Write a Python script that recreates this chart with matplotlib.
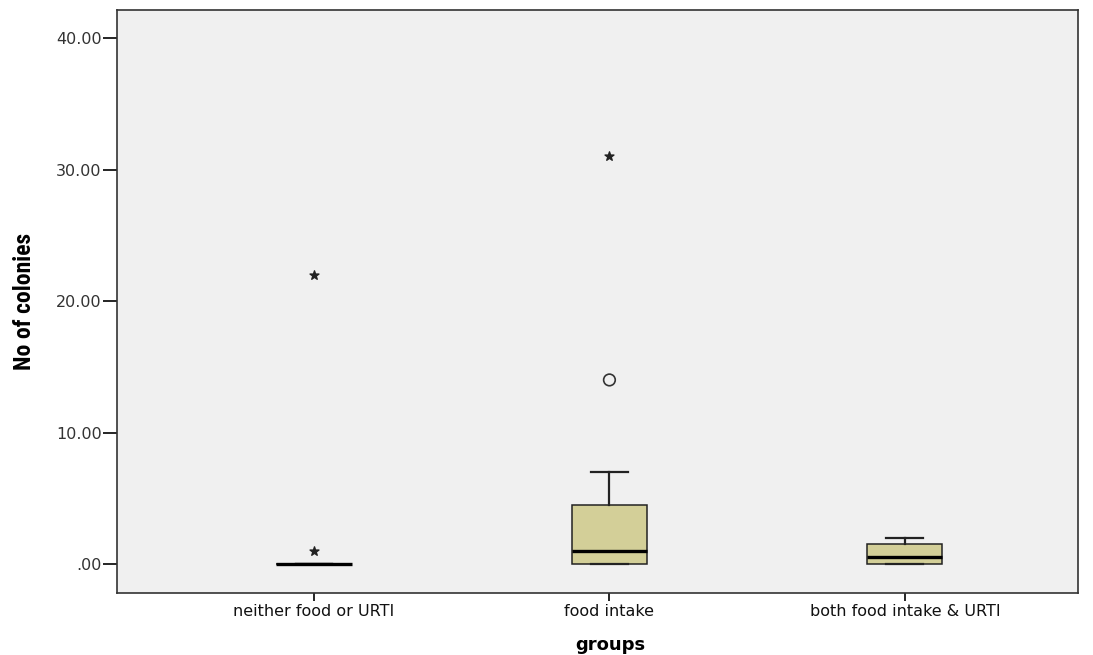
import numpy as np
import matplotlib.pyplot as plt
from matplotlib import font_manager as fm

groups = ["neither food or URTI", "food intake", "both food intake & URTI"]
positions = [1, 2, 3]

# box statistics
q1 = [0.0, 0.0, 0.0]
med = [0.0, 1.0, 0.5]
q3 = [0.0, 4.5, 1.5]
whislo = [0.0, 0.0, 0.0]
whishi = [0.0, 7.0, 2.0]

# outliers (circle) and extremes (star)
circle_x = [2]
circle_y = [14.0]
star_x = [1, 1, 2]
star_y = [22.0, 1.0, 31.0]

yticks = [0, 10, 20, 30, 40]
ytick_labels = [".00", "10.00", "20.00", "30.00", "40.00"]

plt.rcParams['font.family'] = ['DejaVu Sans']

# narrow bold face for the y label, if one is around
have = set(f.name for f in fm.fontManager.ttflist)
narrow = None
for n in ["Liberation Sans Narrow", "Arial Narrow", "Roboto Condensed", "Open Sans Condensed"]:
    if n in have:
        narrow = n
        break

fig = plt.figure(figsize=(10.93, 6.55), dpi=100)
ax = fig.add_axes([0.107, 0.0947, 0.879, 0.89])
ax.set_facecolor("#f0f0f0")

stats = []
for i in range(len(groups)):
    stats.append({"q1": q1[i], "med": med[i], "q3": q3[i],
                  "whislo": whislo[i], "whishi": whishi[i], "fliers": []})

ax.bxp(stats, positions=positions, widths=0.254, patch_artist=True,
       showfliers=False,
       boxprops=dict(facecolor="#d3cf98", edgecolor="#222222", linewidth=1.1),
       medianprops=dict(color="black", linewidth=2.4),
       whiskerprops=dict(color="#222222", linewidth=1.6),
       capprops=dict(color="#222222", linewidth=1.6),
       capwidths=0.125)

ax.scatter(circle_x, circle_y, s=70, marker="o", facecolors="none",
           edgecolors="#333333", linewidths=1.2, zorder=5)
ax.scatter(star_x, star_y, s=45, marker="*", color="#222222", zorder=5)

ax.set_xlim(0.333, 3.585)
ax.set_ylim(-2.2, 42.13)
ax.set_xticks(positions)
ax.set_xticklabels(groups, fontsize=11.5, color="#111111")
ax.set_yticks(yticks)
ax.set_yticklabels(ytick_labels, fontsize=11.5, color="#333333")
ax.tick_params(axis="y", direction="out", length=10, width=1.2, pad=1)
ax.tick_params(axis="x", direction="out", length=6, width=1.2, pad=2)

for s in ax.spines.values():
    s.set_color("#333333")
    s.set_linewidth(1.2)

if narrow:
    ax.set_ylabel("No of colonies", fontsize=17, fontweight="bold",
                  family=[narrow, "DejaVu Sans"])
else:
    ax.set_ylabel("No of colonies", fontsize=14, fontweight="bold",
                  family="DejaVu Sans", fontstretch="condensed")
ax.yaxis.set_label_coords(-0.084, 0.5)

ax.set_xlabel("groups", fontsize=13, fontweight="bold")
ax.xaxis.set_label_coords(0.513, -0.073)

fig.savefig("out.png", dpi=100)
